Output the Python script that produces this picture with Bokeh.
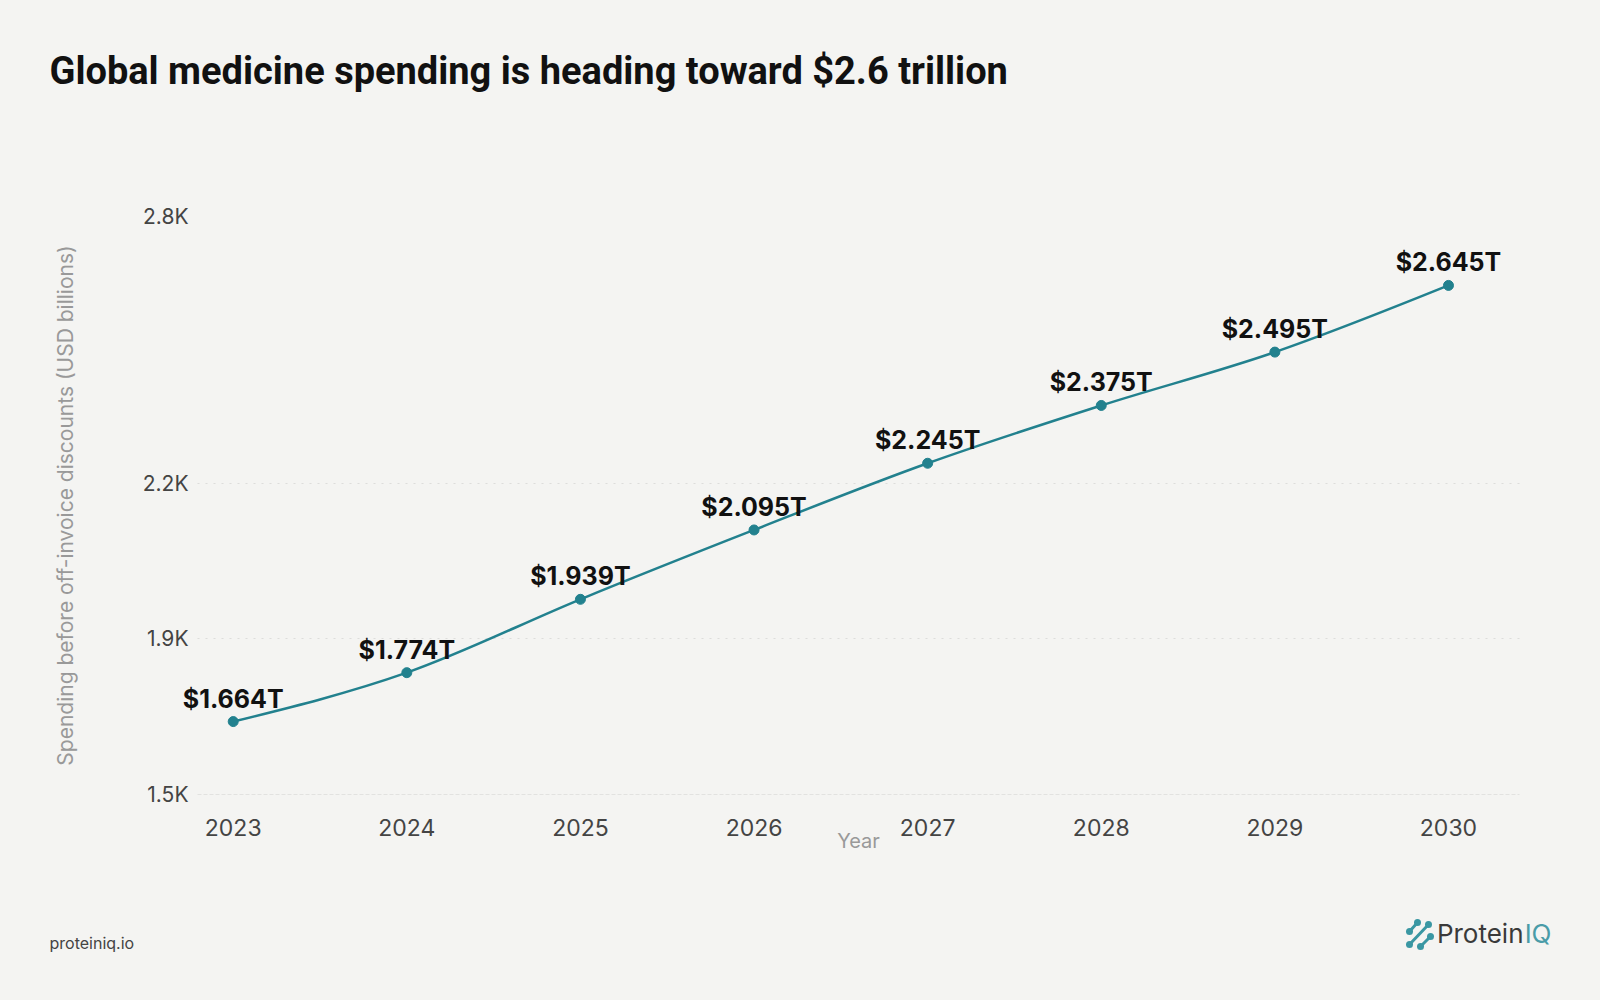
from bokeh.plotting import figure
from bokeh.layouts import column
from bokeh.models import ColumnDataSource, LabelSet, Label, Range1d, FixedTicker
from bokeh.core.properties import value
from bokeh.embed import file_html
from bokeh.resources import INLINE

# data
years = [2023, 2024, 2025, 2026, 2027, 2028, 2029, 2030]
spending = [1664, 1774, 1939, 2095, 2245, 2375, 2495, 2645]
point_labels = ["$1.664T", "$1.774T", "$1.939T", "$2.095T", "$2.245T", "$2.375T", "$2.495T", "$2.645T"]
y_ticks = [1500, 1850, 2200, 2800]
y_tick_labels = ["1.5K", "1.9K", "2.2K", "2.8K"]

BG = "#f4f4f2"
TEAL = "#22818e"
W = 1600
H_HEAD, H_MAIN, H_FOOT = 150, 750, 100
LEFT, RIGHT, TOP, BOTTOM = 180, 64, 66, 106

# frame is a bit wider than the grid so the first label is not cut
x_start, x_end = 2022.6964, 2030.507
x_grid = (2022.7943, 2030.409)
y_start, y_end = 1500, 2800


def strip(height):
    # plain figure used as a canvas, pixel coordinates with y downwards
    s = figure(width=W, height=height, output_backend="svg", toolbar_location=None,
               x_range=Range1d(0, W), y_range=Range1d(height, 0),
               x_axis_location=None, y_axis_location=None,
               min_border_left=0, min_border_right=0, min_border_top=0, min_border_bottom=0)
    s.frame_align = False
    s.background_fill_color = BG
    s.border_fill_color = BG
    s.outline_line_color = None
    s.grid.visible = False
    return s


# header with the title
head = strip(H_HEAD)
head.add_layout(Label(x=49, y=70, text="Global medicine spending is heading toward $2.6 trillion",
                      text_font="Roboto", text_font_style="bold", text_font_size="38px",
                      text_color="#111111", text_baseline="alphabetic"))

p = figure(width=W, height=H_MAIN, output_backend="svg", toolbar_location=None,
           x_range=Range1d(x_start, x_end), y_range=Range1d(y_start, y_end),
           min_border_left=LEFT, min_border_right=RIGHT,
           min_border_top=TOP, min_border_bottom=BOTTOM)
p.frame_align = False
p.background_fill_color = BG
p.border_fill_color = BG
p.outline_line_color = None

# axes
p.xaxis.ticker = FixedTicker(ticks=years)
p.yaxis.ticker = FixedTicker(ticks=y_ticks)
p.yaxis.major_label_overrides = dict(zip(y_ticks, y_tick_labels))
for ax in (p.xaxis, p.yaxis):
    ax.major_tick_line_color = None
    ax.minor_tick_line_color = None
    ax.major_label_text_font = "Inter"
    ax.major_label_text_color = "#444444"
    ax.axis_label_text_font = "Inter"
    ax.axis_label_text_font_style = "normal"
    ax.axis_label_text_color = "#999999"
    ax.axis_label_text_font_size = "20px"
p.xaxis.major_label_text_font_size = "23px"
p.yaxis.major_label_text_font_size = "21px"
p.yaxis.axis_label_text_font_size = "21px"
p.xaxis.major_label_standoff = 18
p.yaxis.major_label_standoff = -14
p.xaxis.axis_label = "Year"
p.xaxis.axis_label_standoff = -10
p.yaxis.axis_label = "Spending before off-invoice discounts (USD billions)"
p.yaxis.axis_label_standoff = 62
p.yaxis.axis_line_color = None
p.xaxis.bounds = x_grid
p.xaxis.axis_line_color = "#e2e2e0"
p.xaxis.axis_line_dash = "4 2"
p.xaxis.axis_line_width = 1

p.xgrid.grid_line_color = None
p.ygrid.grid_line_color = "#dddddb"
p.ygrid.grid_line_dash = "2 6"
p.ygrid.cross_bounds = x_grid

# smooth curve through the points (monotone-style cubic segments)
n = len(years)
slopes = [(spending[i + 1] - spending[i]) / (years[i + 1] - years[i]) for i in range(n - 1)]
tang = [0.0] * n
for i in range(1, n - 1):
    tang[i] = (slopes[i - 1] + slopes[i]) / 2
tang[0] = (3 * slopes[0] - tang[1]) / 2
tang[-1] = (3 * slopes[-1] - tang[-2]) / 2
seg = dict(x0=[], y0=[], x1=[], y1=[], cx0=[], cy0=[], cx1=[], cy1=[])
for i in range(n - 1):
    h = (years[i + 1] - years[i]) / 3
    seg["x0"].append(years[i]); seg["y0"].append(spending[i])
    seg["x1"].append(years[i + 1]); seg["y1"].append(spending[i + 1])
    seg["cx0"].append(years[i] + h); seg["cy0"].append(spending[i] + tang[i] * h)
    seg["cx1"].append(years[i + 1] - h); seg["cy1"].append(spending[i + 1] - tang[i + 1] * h)
p.bezier(x0="x0", y0="y0", x1="x1", y1="y1", cx0="cx0", cy0="cy0", cx1="cx1", cy1="cy1",
         source=ColumnDataSource(seg), line_color=TEAL, line_width=2.5)

src = ColumnDataSource(dict(x=years, y=spending, label=point_labels))
p.scatter("x", "y", source=src, size=10, fill_color=TEAL, line_color=TEAL)
p.add_layout(LabelSet(x="x", y="y", text="label", source=src, y_offset=14,
                      text_align="center", text_baseline="alphabetic",
                      text_font=value("Inter"), text_font_style="bold",
                      text_font_size="25px", text_color="#111111"))

# footer: site name and logo
foot = strip(H_FOOT)
foot.add_layout(Label(x=49, y=42, text="proteiniq.io", text_font="Inter",
                      text_font_size="16px", text_color="#444444", text_baseline="middle"))
foot.add_layout(Label(x=1551, y=33, text="IQ", text_font="Inter", text_font_size="26px",
                      text_color="#4a9ca8", text_align="right", text_baseline="middle"))
foot.add_layout(Label(x=1523, y=33, text="Protein", text_font="Inter", text_font_size="26px",
                      text_color="#3a3a3a", text_align="right", text_baseline="middle"))
# logo mark: three short diagonal strokes with round ends
ix0 = [1409, 1409, 1420]
iy0 = [31, 44, 46]
ix1 = [1417, 1428, 1430]
iy1 = [22, 24, 36]
foot.segment(ix0, iy0, ix1, iy1, line_color="#3a97a3", line_width=3, line_cap="round")
foot.scatter(ix0 + ix1, iy0 + iy1, size=7, fill_color="#3a97a3", line_color=None)

layout = column(head, p, foot, spacing=0)
html = file_html(layout, INLINE)
html = html.replace("</head>", "<style>html, body { background-color: %s; }</style></head>" % BG, 1)
open("out.html", "w").write(html)
